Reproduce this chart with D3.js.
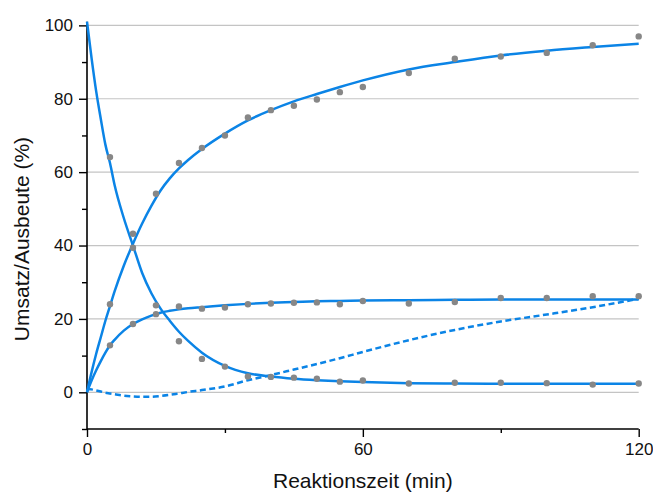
<!DOCTYPE html>
<html>
<head>
<meta charset="utf-8">
<script src="https://cdn.jsdelivr.net/npm/d3@7"></script>
<style>
  html, body { margin: 0; padding: 0; background: #fff; }
  svg { display: block; font-family: "Liberation Sans", Arial, sans-serif; }
</style>
</head>
<body>
<svg id="chart" width="653" height="495"></svg>
<script>
// Measured samples (time in min, values in %)
const sampleT = [5, 10, 15, 20, 25, 30, 35, 40, 45, 50, 55, 60, 70, 80, 90, 100, 110, 120];
const conversionPts = [24, 43.2, 54.1, 62.5, 66.6, 70, 74.9, 76.9, 78.1, 79.8, 81.8, 83.2, 87.0, 90.9, 91.5, 92.5, 94.6, 97.0];
const eductPts = [64.1, 39.4, 23.7, 13.9, 9.1, 7.0, 4.3, 4.2, 4.0, 3.7, 2.9, 3.2, 2.4, 2.6, 2.6, 2.5, 2.1, 2.4];
const productPts = [12.8, 18.6, 21.3, 23.4, 22.8, 23.1, 24.0, 24.2, 24.4, 24.5, 24.0, 24.9, 24.2, 24.6, 25.7, 25.7, 26.2, 26.2];

// Fitted model curves, tabulated on a common time grid
const fitT = [0, 1, 2, 3, 4, 5, 6, 8, 10, 12, 14, 16, 18, 20, 22, 25, 30, 35, 40, 45, 50, 55, 60, 70, 80, 90, 100, 110, 120];
const eductFit = [101, 91, 82, 74.5, 67.5, 62.5, 56.5, 47.5, 40, 32.5, 27, 22.8, 19.5, 16.5, 14, 10.8, 7.2, 5.2, 4.3, 3.7, 3.3, 3.0, 2.8, 2.5, 2.4, 2.35, 2.3, 2.3, 2.3];
const conversionFit = [0, 5.5, 10.5, 15, 19.5, 23.5, 27.5, 34.5, 40.5, 46, 50.8, 55, 58.3, 61, 63.3, 66.3, 70.5, 74.1, 76.9, 79.3, 81.3, 83.2, 85, 88, 90, 91.8, 93.1, 94.1, 95];
const productFit = [0, 3.2, 6, 8.5, 10.8, 12.8, 14.3, 16.8, 18.6, 19.9, 20.9, 21.7, 22.2, 22.6, 22.9, 23.2, 23.7, 24.1, 24.4, 24.6, 24.8, 24.9, 25.0, 25.1, 25.2, 25.3, 25.3, 25.3, 25.3];
const byproductFit = [1.0, 0.8, 0.5, 0.2, -0.1, -0.3, -0.5, -0.9, -1.1, -1.2, -1.2, -1.0, -0.7, -0.3, 0.1, 0.6, 1.6, 3.3, 4.7, 6.2, 7.7, 9.3, 11.0, 14.2, 17.0, 19.3, 21.2, 23.2, 25.5];

const xMajor = [0, 60, 120];
const xMinor = [30, 90];
const yMajor = [0, 20, 40, 60, 80, 100];
const yMinor = [-10, 10, 30, 50, 70, 90];

const xTitle = "Reaktionszeit (min)";
const yTitle = "Umsatz/Ausbeute (%)";

const BLUE = "#0b84e6";
const DOT = "#878787";

const svg = d3.select("#chart");
const x = d3.scaleLinear().domain([0, 120]).range([87, 638.7]);
const y = d3.scaleLinear().domain([-10, 101]).range([429, 21.7]);

// grid
svg.append("g").selectAll("line").data(yMajor).join("line")
  .attr("x1", x(0)).attr("x2", x(120))
  .attr("y1", d => y(d)).attr("y2", d => y(d))
  .attr("stroke", "#c4c4c4").attr("stroke-width", 1.2);

// x axis
const gx = svg.append("g").attr("transform", `translate(0,${y(-10)})`);
gx.call(d3.axisBottom(x).tickValues(xMajor).tickSize(8).tickPadding(6).tickFormat(d3.format("d")));
gx.append("g").call(d3.axisBottom(x).tickValues(xMinor).tickSize(4).tickFormat(""))
  .select(".domain").remove();

// y axis
const gy = svg.append("g").attr("transform", `translate(${x(0)},0)`);
gy.call(d3.axisLeft(y).tickValues(yMajor).tickSize(8).tickPadding(6).tickFormat(d3.format("d")));
gy.append("g").call(d3.axisLeft(y).tickValues(yMinor).tickSize(5).tickFormat(""))
  .select(".domain").remove();

svg.selectAll(".domain").attr("d", null);
gx.select(".domain").remove();
gy.select(".domain").remove();
svg.append("line").attr("x1", x(0)).attr("x2", x(120)).attr("y1", y(-10)).attr("y2", y(-10))
  .attr("stroke", "#000").attr("stroke-width", 1.6);
svg.append("line").attr("x1", x(0)).attr("x2", x(0)).attr("y1", y(-10)).attr("y2", y(101))
  .attr("stroke", "#000").attr("stroke-width", 1.6);

svg.selectAll(".tick line").attr("stroke", "#000").attr("stroke-width", 1.4);
svg.selectAll(".tick text").attr("font-size", 17).attr("fill", "#111")
  .attr("font-family", "'Liberation Sans', Arial, sans-serif");

// curves
const line = vals => d3.line().x((d, i) => x(fitT[i])).y(d => y(d)).curve(d3.curveMonotoneX)(vals);
const curves = [
  { v: eductFit, dash: null },
  { v: conversionFit, dash: null },
  { v: productFit, dash: null },
  { v: byproductFit, dash: "6,3.5" }
];
svg.append("g").selectAll("path").data(curves).join("path")
  .attr("d", d => line(d.v))
  .attr("fill", "none").attr("stroke", BLUE).attr("stroke-width", 2.5)
  .attr("stroke-dasharray", d => d.dash);

// measured points
[conversionPts, eductPts, productPts].forEach(vals => {
  svg.append("g").selectAll("circle").data(vals).join("circle")
    .attr("cx", (d, i) => x(sampleT[i])).attr("cy", d => y(d))
    .attr("r", 3.2).attr("fill", DOT);
});

// axis titles
svg.append("text").attr("x", x(60)).attr("y", 488).attr("text-anchor", "middle")
  .attr("font-size", 21).attr("fill", "#111").text(xTitle);
svg.append("text").attr("transform", "translate(29,239) rotate(-90)").attr("text-anchor", "middle")
  .attr("font-size", 21).attr("fill", "#111").text(yTitle);
</script>
</body>
</html>
